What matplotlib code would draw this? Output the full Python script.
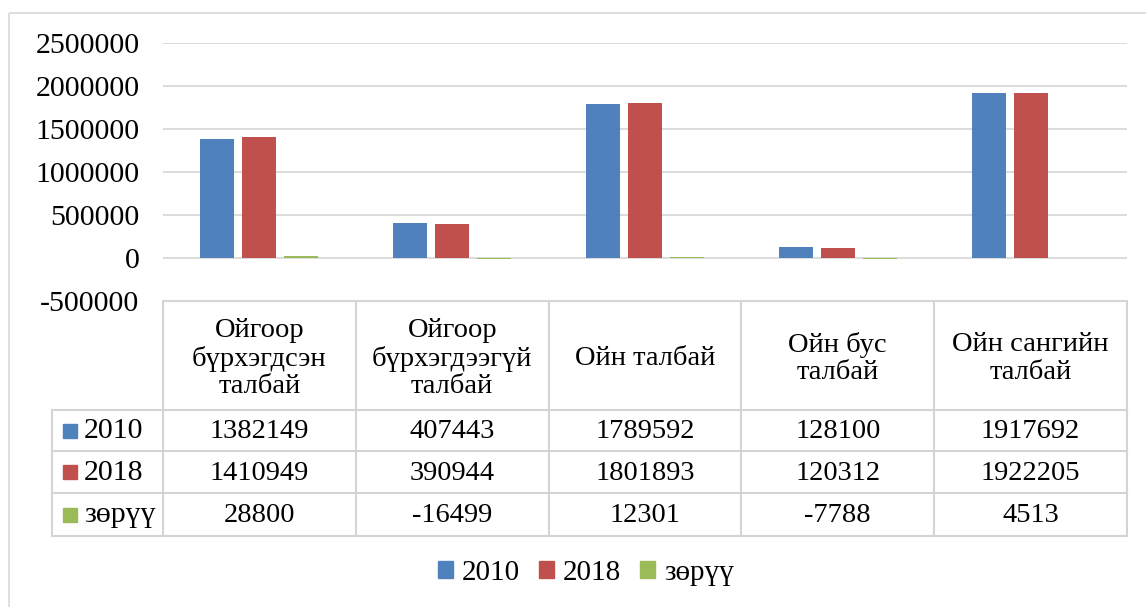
import matplotlib.pyplot as plt
import numpy as np
from matplotlib.patches import Patch, Rectangle

plt.rcParams['font.family'] = ['Liberation Serif', 'DejaVu Serif']

categories = ['Ойгоор\nбүрхэгдсэн\nталбай', 'Ойгоор\nбүрхэгдээгүй\nталбай',
              'Ойн талбай', 'Ойн бус\nталбай', 'Ойн сангийн\nталбай']
series_names = ['2010', '2018', 'зөрүү']
v2010 = [1382149, 407443, 1789592, 128100, 1917692]
v2018 = [1410949, 390944, 1801893, 120312, 1922205]
diff = [28800, -16499, 12301, -7788, 4513]
colors = ['#4f81bd', '#c0504d', '#9bbb59']
yticks = [-500000, 0, 500000, 1000000, 1500000, 2000000, 2500000]

W, H = 1146, 607
fig = plt.figure(figsize=(W / 100, H / 100), dpi=100)

# overlay in pixel coords for border + table
tab = fig.add_axes([0, 0, 1, 1])
tab.set_xlim(0, W)
tab.set_ylim(H, 0)
tab.axis('off')
tab.add_patch(Rectangle((9, 13), 1200, 700, fill=False, ec='#d9d9d9', lw=1.2))

left, right = 163, 1127
top, bot = 43, 301
ax = fig.add_axes([left / W, 1 - bot / H, (right - left) / W, (bot - top) / H])
x = np.arange(len(categories))
bw = 0.176
step = 0.218
for i, (vals, c) in enumerate(zip([v2010, v2018, diff], colors)):
    ax.bar(x + (i - 1) * step, vals, bw, color=c, zorder=3)
ax.set_xlim(-0.5, len(categories) - 0.5)
ax.set_ylim(-500000, 2500000)
ax.set_yticks(yticks)
ax.set_yticklabels([str(t) for t in yticks], fontsize=21.5)
ax.tick_params(axis='y', length=0, pad=17)
ax.set_xticks([])
ax.grid(axis='y', color='#d9d9d9', lw=1.3, zorder=0)
for s in ax.spines.values():
    s.set_visible(False)
ax.set_facecolor('none')

# data table
lc = '#d4d4d4'
ncol = len(categories)
cw = (right - left) / ncol
rows_y = [301, 410, 451, 493, 536]
legx = 52
for j in range(ncol + 1):
    tab.plot([left + j * cw] * 2, [rows_y[0], rows_y[-1]], color=lc, lw=1.5)
tab.plot([legx, legx], [rows_y[1], rows_y[-1]], color=lc, lw=1.5)
tab.plot([left, right], [rows_y[0]] * 2, color=lc, lw=1.5)
for yy in rows_y[1:]:
    tab.plot([legx, right], [yy, yy], color=lc, lw=1.5)

for j, cat in enumerate(categories):
    tab.text(left + (j + 0.5) * cw, (rows_y[0] + rows_y[1]) / 2 + 3, cat,
             ha='center', va='center', fontsize=20.5, linespacing=1.13)

for r, (name, vals, c) in enumerate(zip(series_names, [v2010, v2018, diff], colors)):
    yc = (rows_y[r + 1] + rows_y[r + 2]) / 2
    tab.add_patch(Rectangle((63, yc - 7), 14, 14, color=c))
    tab.text(84, yc + 1, name, ha='left', va='center', fontsize=21.5)
    for j, v in enumerate(vals):
        tab.text(left + (j + 0.5) * cw, yc + 1, str(v), ha='center', va='center', fontsize=20.5)

handles = [Patch(color=c, label=n) for c, n in zip(colors, series_names)]
fig.legend(handles=handles, loc='center', bbox_to_anchor=(586 / W, 1 - 573 / H),
           ncol=3, frameon=False, fontsize=21, handlelength=0.52, handleheight=0.52,
           handletextpad=0.3, columnspacing=0.65)

fig.savefig('out.png', dpi=100)
